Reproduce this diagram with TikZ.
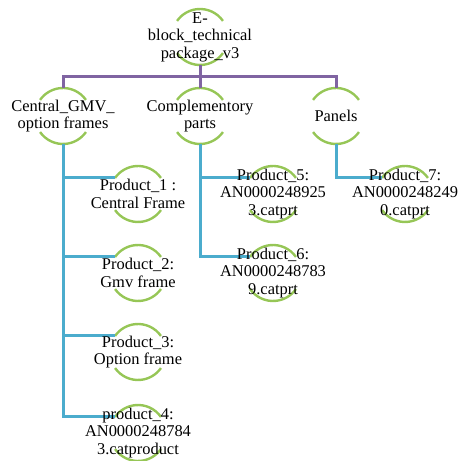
\documentclass[tikz,border=0pt]{standalone}
\usepackage{fontspec}
\setmainfont{Liberation Serif}
\usepackage{tikz}
\usetikzlibrary{positioning, calc}
\definecolor{ringgreen}{RGB}{150,198,86}
\definecolor{toppurple}{RGB}{128,100,162}
\definecolor{branchblue}{RGB}{75,172,205}
\pgfdeclarelayer{back}
\pgfsetlayers{back,main}
\tikzset{
    x=1bp, y=1bp,
    node distance=79bp, % Centre to centre between siblings
    item/.style={ % Text of every entry
        align=center,
        font=\fontsize{16.5}{17.5}\selectfont,
        inner sep=0pt
    },
    ring/.style={ % The two green arcs round an entry
        draw=ringgreen,
        line width=2.4bp
    },
    toplink/.style={draw=toppurple, line width=3bp},
    sublink/.style={draw=branchblue, line width=3bp}
}
\newcommand{\ringrad}{28bp}

\begin{document}
\begin{tikzpicture}
    \useasboundingbox (0,0) rectangle (461,461);
    \node[item] (root) at (200,424) {E-\\block\_technical\\package\_v3};
    \node[item] (cgo)  at (63,345)  {Central\_GMV\_\\option frames};
    \node[item] (comp) at (200,345) {Complementory\\parts};
    \node[item] (pan)  at (336,345) {Panels};
    \node[item] (p1) at (138,267) {Product\_1 :\\Central Frame};
    \node[item, below of=p1] (p2) {Product\_2:\\Gmv frame};
    \node[item, below of=p2] (p3) {Product\_3:\\Option frame};
    \node[item, below of=p3, yshift=-2bp] (p4) {product\_4:\\AN0000248784\\3.catproduct};
    \node[item] (p5) at (273,267) {Product\_5:\\AN0000248925\\3.catprt};
    \node[item, below of=p5] (p6) {Product\_6:\\AN0000248783\\9.catprt};
    \node[item] (p7) at (405,267) {Product\_7:\\AN0000248249\\0.catprt};
    \begin{pgfonlayer}{back}
        % green arcs
        \foreach \n in {root,cgo,comp,pan,p1,p2,p3,p4,p5,p6,p7}{
            \draw[ring] ($(\n)+(35:\ringrad)$) arc[start angle=35, end angle=145, radius=\ringrad];
            \draw[ring] ($(\n)+(215:\ringrad)$) arc[start angle=215, end angle=325, radius=\ringrad];
        }
        % first level
        \draw[toplink] ($(root)+(0,-\ringrad)$) -- ++(0,-12bp) coordinate (bus);
        \draw[toplink] (bus) -| ($(cgo)+(0,\ringrad)$);
        \draw[toplink] (bus) -| ($(pan)+(0,\ringrad)$);
        \draw[toplink] (bus) -- ($(comp)+(0,\ringrad)$);
        % second level
        \foreach \c in {p1,p2,p3,p4}
            \draw[sublink] ($(cgo)+(0,-\ringrad)$) |- ($(\c)+(145:\ringrad)$);
        \foreach \c in {p5,p6}
            \draw[sublink] ($(comp)+(0,-\ringrad)$) |- ($(\c)+(145:\ringrad)$);
        \draw[sublink] ($(pan)+(0,-\ringrad)$) |- ($(p7)+(145:\ringrad)$);
    \end{pgfonlayer}
\end{tikzpicture}
\end{document}
